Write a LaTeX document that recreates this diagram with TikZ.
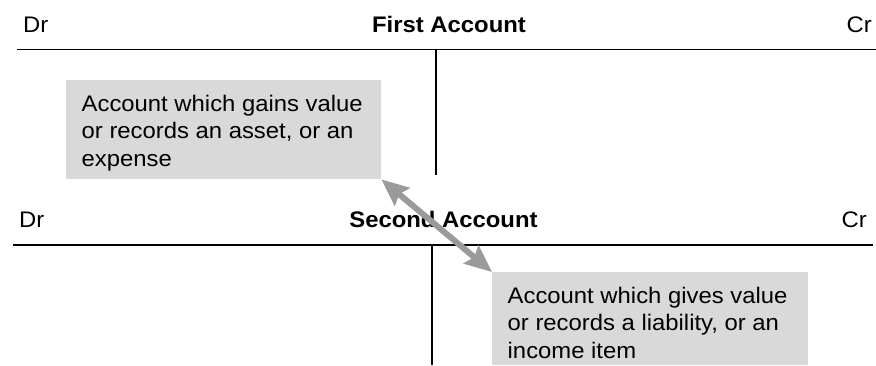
\documentclass[tikz,border=0pt]{standalone}
\usepackage{fontspec}
\setmainfont{Liberation Sans}[FakeStretch=1.06]
\usetikzlibrary{arrows.meta}
\definecolor{boxgray}{HTML}{D9D9D9}
\definecolor{arrowgray}{HTML}{9A9A9A}
\tikzset{
  lbl/.style={inner sep=0pt, font=\fontsize{22.5}{27.5}\selectfont},
  title/.style={lbl, font=\fontsize{22.5}{27.5}\selectfont\bfseries},
  rule/.style={line width=1.1pt, black},
  notebox/.style={draw=none, fill=boxgray, inner sep=0pt, anchor=north west},
  linkarrow/.style={arrowgray, line width=6pt,
    {Stealth[length=27pt,width=23pt,inset=4pt]}-{Stealth[length=27pt,width=23pt,inset=4pt]}}
}
\begin{document}
\begin{tikzpicture}[x=1pt,y=1pt]
\useasboundingbox (0,0) rectangle (876,-365);

% first T-account
\node[lbl, anchor=base west] (dr1) at (23,-32.7) {Dr};
\node[title, anchor=base] (first) at (449,-32.7) {First Account};
\node[lbl, anchor=base east] (cr1) at (872,-32.7) {Cr};
\coordinate (t1l) at (17,-49.3);
\coordinate (t1r) at (876,-49.3);
\coordinate (t1top) at (436,-49.3);
\coordinate (t1bot) at (436,-175);
\draw[rule] (t1l) -- (t1r);
\draw[rule] (t1top) -- (t1bot);

% second T-account
\node[lbl, anchor=base west] (dr2) at (19,-227.5) {Dr};
\node[title, anchor=base] (second) at (443.5,-227.5) {Second Account};
\node[lbl, anchor=base east] (cr2) at (867,-227.5) {Cr};
\coordinate (t2l) at (13,-245);
\coordinate (t2r) at (873,-245);
\coordinate (t2top) at (432,-245);
\coordinate (t2bot) at (432,-365);
\draw[rule] (t2l) -- (t2r);
\draw[rule] (t2top) -- (t2bot);

% debit note
\node[notebox, minimum width=315pt, minimum height=99pt] (gain) at (66,-80) {};
\node[lbl, anchor=base west] (g1) at (81.5,-111) {Account which gains value};
\node[lbl, anchor=base west] (g2) at (81.5,-138.5) {or records an asset, or an};
\node[lbl, anchor=base west] (g3) at (81.5,-166) {expense};

% credit note
\node[notebox, minimum width=316pt, minimum height=93pt] (give) at (492,-272) {};
\node[lbl, anchor=base west] (v1) at (507.5,-303) {Account which gives value};
\node[lbl, anchor=base west] (v2) at (507.5,-330.5) {or records a liability, or an};
\node[lbl, anchor=base west] (v3) at (507.5,-358) {income item};

% double entry link
\draw[linkarrow] (gain.south east) -- (give.north west);
\end{tikzpicture}
\end{document}
